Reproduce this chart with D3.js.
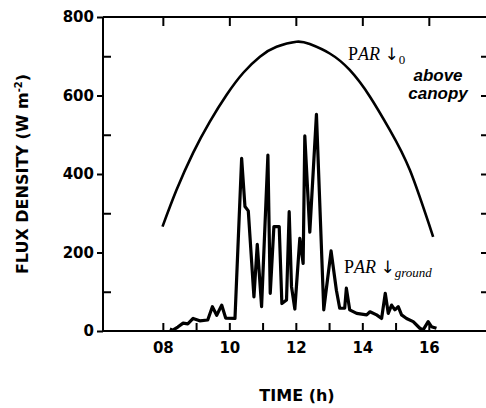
<!DOCTYPE html>
<html>
<head>
<meta charset="utf-8">
<script src="https://cdn.jsdelivr.net/npm/d3@7"></script>
<style>
  body { margin: 0; background: #fff; }
  svg { display: block; }
</style>
</head>
<body>
<div id="myChart"></div>
<script>
// hours of the day and flux density
var hoursAbove = [7.99, 8.41, 8.91, 9.41, 9.92, 10.42, 10.92, 11.42, 12.02, 12.42, 13.02, 13.62, 14.23, 14.83, 15.43, 16.13];
var fluxAbove = [266, 359, 454, 533, 602, 658, 699, 724, 737, 731, 707, 665, 597, 512, 410, 240];

var hoursGround = [8.21, 8.30, 8.45, 8.61, 8.75, 8.91, 9.11, 9.35, 9.49, 9.62, 9.77, 9.89, 10.17,
  10.37, 10.47, 10.57, 10.74, 10.84, 10.97, 11.16, 11.23, 11.34, 11.50, 11.58, 11.72, 11.80, 11.87,
  11.97, 12.12, 12.22, 12.27, 12.42, 12.62, 12.84, 13.06, 13.22, 13.32, 13.47, 13.52, 13.62, 13.83,
  14.13, 14.23, 14.43, 14.58, 14.69, 14.78, 14.88, 14.98, 15.08, 15.18, 15.33, 15.53, 15.73, 15.83,
  15.98, 16.08, 16.23];
var fluxGround = [5, 2, 10, 20, 18, 32, 26, 28, 62, 40, 66, 33, 32,
  440, 317, 306, 87, 221, 62, 448, 96, 266, 266, 70, 79, 304, 113,
  56, 236, 172, 497, 252, 552, 54, 204, 104, 58, 58, 109, 54, 45,
  41, 49, 41, 32, 96, 45, 66, 54, 62, 41, 32, 24, 7, 3,
  24, 11, 7];

var yMajor = [0, 200, 400, 600, 800];
var yMinor = [100, 300, 500, 700];
var xHours = [8, 9, 10, 11, 12, 13, 14, 15, 16];
var xLabelled = [8, 10, 12, 14, 16];

var margin = {top: 17, right: 0, bottom: 77, left: 103},
  width = 486 - margin.left - margin.right,
  height = 408 - margin.top - margin.bottom;

var svg = d3.select("#myChart")
  .append("svg")
  .attr("width", 486)
  .attr("height", 408)
  .append("g")
  .attr("transform", "translate(" + margin.left + "," + margin.top + ")");

var x = d3.scaleLinear().domain([6.2, 17.75]).range([0, 384]);
var y = d3.scaleLinear().domain([0, 800]).range([height, 0]);

var tickFont = "'DejaVu Sans', sans-serif";

// frame lines
svg.append("line").attr("x1", 0).attr("x2", 0).attr("y1", 0).attr("y2", height);
svg.append("line").attr("x1", 0).attr("x2", width).attr("y1", 0).attr("y2", 0);
svg.append("line").attr("x1", 0).attr("x2", width).attr("y1", height).attr("y2", height);
svg.selectAll("line").attr("stroke", "#000").attr("stroke-width", 2);

// bottom axis: hourly ticks pointing up, labels on even hours
var xAxis = svg.append("g")
  .attr("transform", "translate(0," + height + ")")
  .call(d3.axisBottom(x)
    .tickValues(xHours)
    .tickSize(-8)
    .tickPadding(11)
    .tickFormat(function(d) { return xLabelled.indexOf(d) >= 0 ? d3.format("02d")(d) : ""; }));

// top axis: even hours, pointing down
var xTop = svg.append("g")
  .call(d3.axisTop(x).tickValues(xLabelled).tickSize(-9).tickFormat(""));

// left axis: labelled ticks outward, minor ticks inward
var yAxis = svg.append("g")
  .call(d3.axisLeft(y).tickValues(yMajor).tickSize(6).tickPadding(3));
var yIn = svg.append("g")
  .call(d3.axisLeft(y).tickValues(yMinor).tickSize(-8).tickFormat(""));

// right side: small inward ticks
var yRight = svg.append("g")
  .attr("transform", "translate(" + width + ",0)")
  .call(d3.axisRight(y).tickValues([100, 200, 300, 400, 500, 600, 700]).tickSize(-5).tickFormat(""));

[xAxis, xTop, yAxis, yIn, yRight].forEach(function(g) {
  g.select(".domain").remove();
  g.selectAll(".tick line").attr("stroke", "#000").attr("stroke-width", 2);
  g.selectAll("text")
    .attr("fill", "#000")
    .style("font-family", tickFont)
    .style("font-weight", "bold")
    .style("font-size", "15px");
});

// curves
var above = hoursAbove.map(function(h, i) { return {h: h, v: fluxAbove[i]}; });
var ground = hoursGround.map(function(h, i) { return {h: h, v: fluxGround[i]}; });

svg.append("path")
  .datum(above)
  .attr("fill", "none")
  .attr("stroke", "#000")
  .attr("stroke-width", 2.6)
  .attr("d", d3.line()
    .curve(d3.curveNatural)
    .x(function(d) { return x(d.h); })
    .y(function(d) { return y(d.v); }));

svg.append("path")
  .datum(ground)
  .attr("fill", "none")
  .attr("stroke", "#000")
  .attr("stroke-width", 3.2)
  .attr("stroke-linejoin", "round")
  .attr("d", d3.line()
    .x(function(d) { return x(d.h); })
    .y(function(d) { return y(d.v); }));

// annotations
var serif = "'Liberation Serif', 'DejaVu Serif', serif";

function parLabel(px, py, sub, subItalic) {
  var t = svg.append("text")
    .attr("x", px - margin.left)
    .attr("y", py - margin.top)
    .style("font-family", serif)
    .style("font-size", "18px")
    .attr("fill", "#000");
  t.append("tspan").style("font-style", "normal").text("P");
  t.append("tspan").style("font-style", "italic").text("AR ");
  t.append("tspan")
    .style("font-family", "'DejaVu Sans', sans-serif")
    .style("font-size", "17px")
    .text("\u2193");
  t.append("tspan")
    .attr("dy", 4)
    .style("font-size", "13px")
    .style("font-style", subItalic ? "italic" : "normal")
    .text(sub);
}

parLabel(348, 60, "0", false);
parLabel(344, 273, "ground", true);

var sideNote = ["above", "canopy"];
svg.selectAll("text.note")
  .data(sideNote)
  .enter()
  .append("text")
  .attr("class", "note")
  .attr("x", 438 - margin.left)
  .attr("y", function(d, i) { return 81 + i * 17.5 - margin.top; })
  .attr("text-anchor", "middle")
  .style("font-family", "'Liberation Sans', sans-serif")
  .style("font-weight", "bold")
  .style("font-style", "italic")
  .style("font-size", "17px")
  .text(function(d) { return d; });

// axis titles
svg.append("text")
  .attr("x", 297 - margin.left)
  .attr("y", 401 - margin.top)
  .attr("text-anchor", "middle")
  .style("font-family", tickFont)
  .style("font-weight", "bold")
  .style("font-size", "16px")
  .text("TIME (h)");

var yTitle = svg.append("text")
  .attr("transform", "translate(" + (28 - margin.left) + "," + (174 - margin.top) + ") rotate(-90)")
  .attr("text-anchor", "middle")
  .style("font-family", tickFont)
  .style("font-weight", "bold")
  .style("font-size", "16px");
yTitle.append("tspan").text("FLUX DENSITY (W m");
yTitle.append("tspan").attr("dy", -6).style("font-size", "10px").text("-2");
yTitle.append("tspan").attr("dy", 6).text(")");
</script>
</body>
</html>
